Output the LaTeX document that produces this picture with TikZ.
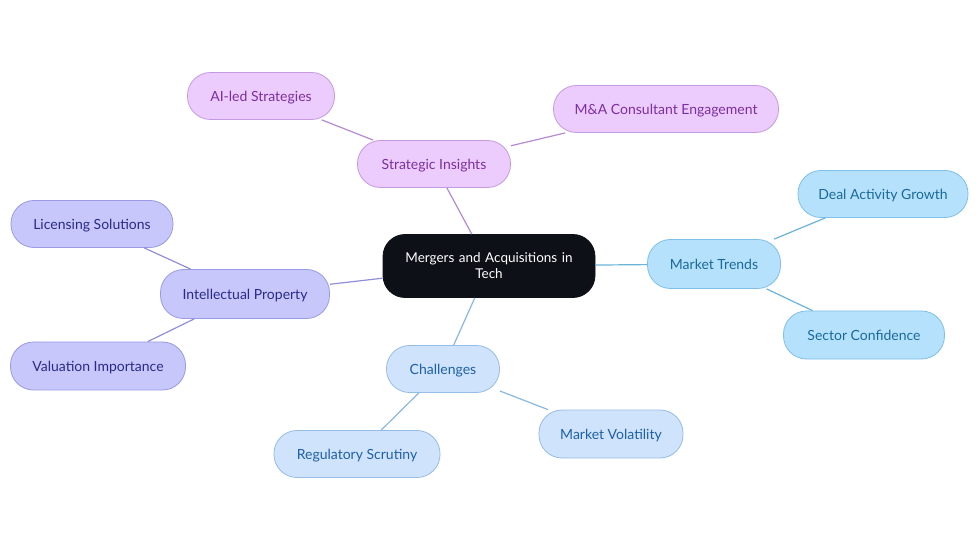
\documentclass[tikz,border=0pt]{standalone}
\usepackage{fontspec}
\setmainfont{Lato}
\begin{document}
\begin{tikzpicture}[x=1pt,y=-1pt,
  base/.style={draw,line width=0.8pt,rounded corners=23pt,minimum height=47pt,align=center,inner sep=0pt,font=\fontsize{14}{16}\selectfont},
  leaf/.style={base,text height=13pt,text depth=2pt},
  pinkbox/.style={leaf,fill=pinkF,draw=pinkD,text=pinkT},
  trendbox/.style={leaf,fill=trendF,draw=trendD,text=trendT},
  chalbox/.style={leaf,fill=chalF,draw=chalD,text=chalT},
  ipbox/.style={leaf,fill=ipF,draw=ipD,text=ipT},
  pinkline/.style={draw=pinkL,line width=1.2pt},
  trendline/.style={draw=trendL,line width=1.2pt},
  challine/.style={draw=chalL,line width=1.2pt},
  ipline/.style={draw=ipL,line width=1.2pt}]
\definecolor{pinkF}{HTML}{ECCCFC}\definecolor{pinkD}{HTML}{C49AE0}\definecolor{pinkT}{HTML}{7B2FA0}\definecolor{pinkL}{HTML}{B58AD6}
\definecolor{trendF}{HTML}{B5E1FC}\definecolor{trendD}{HTML}{7FC0EA}\definecolor{trendT}{HTML}{1A6A9A}\definecolor{trendL}{HTML}{6AB4DC}
\definecolor{chalF}{HTML}{CFE4FC}\definecolor{chalD}{HTML}{95BDE6}\definecolor{chalT}{HTML}{1E5FA8}\definecolor{chalL}{HTML}{8AB8E0}
\definecolor{ipF}{HTML}{C7C7FB}\definecolor{ipD}{HTML}{9A9AE6}\definecolor{ipT}{HTML}{2A2A8A}\definecolor{ipL}{HTML}{8F8FD8}
\definecolor{darkF}{HTML}{0D1117}
\useasboundingbox[fill=white] (0,0) rectangle (980,553);
% nodes
\node[base,fill=darkF,draw=darkF,text=white,minimum width=212pt,minimum height=63pt,rounded corners=22pt,text width=190pt,font=\fontsize{13.5}{16}\selectfont] (c) at (489,266) {Mergers and Acquisitions in\\Tech};
\node[pinkbox,minimum width=153pt] (si) at (434,164) {Strategic Insights};
\node[pinkbox,minimum width=147pt] (ai) at (261,96) {AI-led Strategies};
\node[pinkbox,minimum width=225pt] (ma) at (666,109) {M\&A Consultant Engagement};
\node[trendbox,minimum width=133pt,minimum height=49pt] (mt) at (714,264) {Market Trends};
\node[trendbox,minimum width=170pt] (dg) at (883,194) {Deal Activity Growth};
\node[trendbox,minimum width=161pt,minimum height=48pt] (sc) at (864,335) {Sector Confidence};
\node[chalbox,minimum width=113pt] (ch) at (443,369) {Challenges};
\node[chalbox,minimum width=144pt,minimum height=48pt] (mv) at (611,434) {Market Volatility};
\node[chalbox,minimum width=166pt] (rs) at (357,454) {Regulatory Scrutiny};
\node[ipbox,minimum width=169pt,minimum height=49pt] (ip) at (245,294) {Intellectual Property};
\node[ipbox,minimum width=162pt] (ls) at (92,224) {Licensing Solutions};
\node[ipbox,minimum width=175pt,minimum height=48pt] (vi) at (98,366) {Valuation Importance};
% connectors
\draw[pinkline] (c) -- (si);
\draw[pinkline] (si) -- (ai);
\draw[pinkline] (si) -- (ma);
\draw[trendline] (c) -- (mt);
\draw[trendline] (mt) -- (dg);
\draw[trendline] (mt) -- (sc);
\draw[challine] (c) -- (ch);
\draw[challine] (ch) -- (mv);
\draw[challine] (ch) -- (rs);
\draw[ipline] (c) -- (ip);
\draw[ipline] (ip) -- (ls);
\draw[ipline] (ip) -- (vi);
\end{tikzpicture}
\end{document}
